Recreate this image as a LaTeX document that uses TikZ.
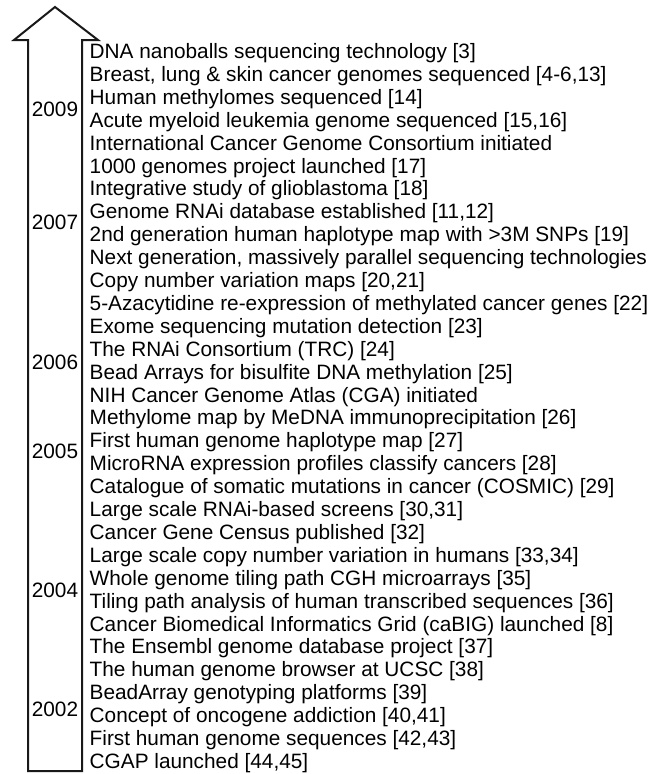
\documentclass[tikz,border=0pt]{standalone}
\usepackage{fontspec}
\setmainfont{Liberation Sans}
\begin{document}
\begin{tikzpicture}[x=1pt,y=-1pt,
    every node/.style={font=\fontsize{20.8}{23}\selectfont,inner sep=0pt},
    event/.style={anchor=base west},
    year/.style={anchor=base},
    timearrow/.style={draw=black!90,line width=2pt,line join=miter}]
  \useasboundingbox (0,0) rectangle (660,774);
  % hollow time arrow
  \draw[timearrow] (28,771) -- (28,40) -- (14,40) -- (55,7) -- (98,40)
     -- (82,40) -- (82,771) -- cycle;
  \foreach \t [count=\i from 0] in {
     {DNA nanoballs sequencing technology [3]},
     {Breast, lung \& skin cancer genomes sequenced [4-6,13]},
     {Human methylomes sequenced [14]},
     {Acute myeloid leukemia genome sequenced [15,16]},
     {International Cancer Genome Consortium initiated},
     {1000 genomes project launched [17]},
     {Integrative study of glioblastoma [18]},
     {Genome RNAi database established [11,12]},
     {2nd generation human haplotype map with >3M SNPs [19]},
     {Next generation, massively parallel sequencing technologies},
     {Copy number variation maps [20,21]},
     {5-Azacytidine re-expression of methylated cancer genes [22]},
     {Exome sequencing mutation detection [23]},
     {The RNAi Consortium (TRC) [24]},
     {Bead Arrays for bisulfite DNA methylation [25]},
     {NIH Cancer Genome Atlas (CGA) initiated},
     {Methylome map by MeDNA immunoprecipitation [26]},
     {First human genome haplotype map [27]},
     {MicroRNA expression profiles classify cancers [28]},
     {Catalogue of somatic mutations in cancer (COSMIC) [29]},
     {Large scale RNAi-based screens [30,31]},
     {Cancer Gene Census published [32]},
     {Large scale copy number variation in humans [33,34]},
     {Whole genome tiling path CGH microarrays [35]},
     {Tiling path analysis of human transcribed sequences [36]},
     {Cancer Biomedical Informatics Grid (caBIG) launched [8]},
     {The Ensembl genome database project [37]},
     {The human genome browser at UCSC [38]},
     {BeadArray genotyping platforms [39]},
     {Concept of oncogene addiction [40,41]},
     {First human genome sequences [42,43]},
     {CGAP launched [44,45]}}
     \node[event] (ev\i) at (89.5,{58.5+22.9*\i}) {\t};
  % years inside the arrow
  \foreach \y/\yr in {116.5/2009,229.5/2007,369.5/2006,458.5/2005,597.5/2004,716.5/2002}
     \node[year] (y\yr) at (55,\y) {\yr};
\end{tikzpicture}
\end{document}
